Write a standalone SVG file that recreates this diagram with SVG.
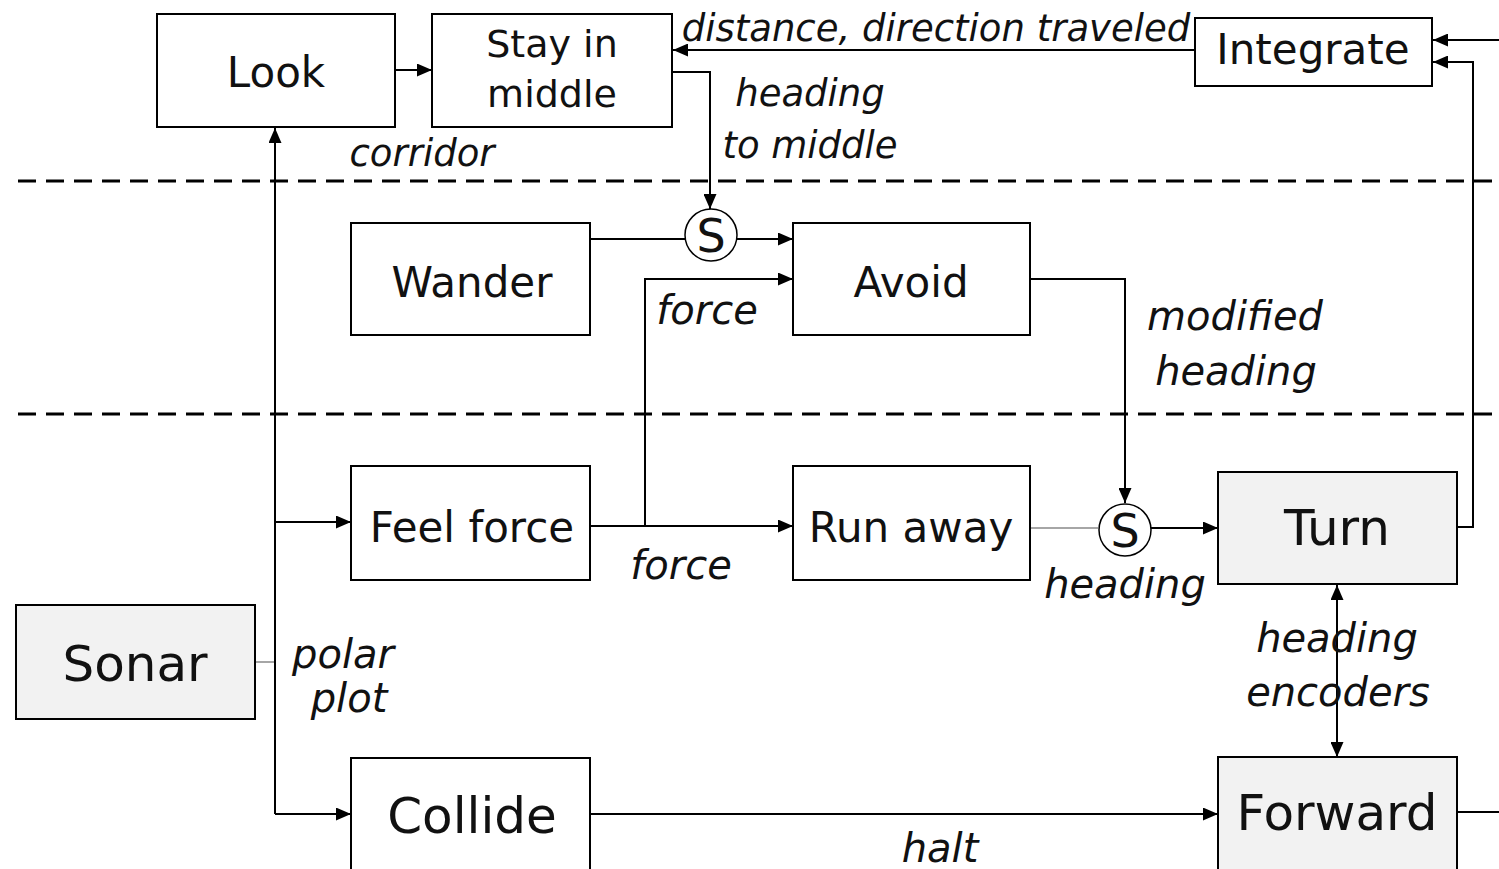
<svg xmlns="http://www.w3.org/2000/svg" width="1499" height="869" viewBox="0 0 1499 869">
  <style>
    .box { fill: #ffffff; stroke: #000; stroke-width: 2; }
    .hw { fill: #f2f2f2; stroke: #000; stroke-width: 2; }
    .name { font-family: "DejaVu Sans", Verdana, sans-serif; font-size: 42px; fill: #111; text-anchor: middle; }
    .big { font-size: 50px; }
    .mid { font-size: 38px; }
    .sym { font-size: 46px; }
    .lbl { font-family: "DejaVu Sans", Verdana, sans-serif; font-style: italic; font-size: 40px; fill: #111; text-anchor: middle; }
    .sm { font-size: 37px; }
    .wire { fill: none; stroke: #000; stroke-width: 2; }
    .thin { fill: none; stroke: #888; stroke-width: 1.5; }
    .sep { fill: none; stroke: #000; stroke-width: 3; stroke-dasharray: 18 10; }
    .sup { fill: #fff; stroke: #000; stroke-width: 1.5; }
  </style>
  <defs>
    <marker id="arrow" viewBox="0 0 15 13" refX="15" refY="6.5" markerWidth="15" markerHeight="13" markerUnits="userSpaceOnUse" orient="auto-start-reverse">
      <path d="M0,0 L15,6.5 L0,13 z" fill="#000"/>
    </marker>
  </defs>

  <rect width="1499" height="869" fill="#ffffff"/>

  <!-- layer separators -->
  <g id="separators">
    <line class="sep" x1="18" y1="181" x2="1499" y2="181"/>
    <line class="sep" x1="18" y1="414" x2="1499" y2="414"/>
  </g>

  <!-- connectors -->
  <g id="connectors">
    <path class="thin" d="M255,662 H275"/>
    <path class="wire" d="M275,814 V128" marker-end="url(#arrow)"/>
    <path class="wire" d="M275,522 H351" marker-end="url(#arrow)"/>
    <path class="wire" d="M275,814 H351" marker-end="url(#arrow)"/>
    <path class="wire" d="M395,70 H432" marker-end="url(#arrow)"/>
    <path class="wire" d="M672,72 H710 V209" marker-end="url(#arrow)"/>
    <path class="wire" d="M590,239 H685"/>
    <path class="wire" d="M737,239 H793" marker-end="url(#arrow)"/>
    <path class="wire" d="M590,526 H793" marker-end="url(#arrow)"/>
    <path class="wire" d="M645,526 V279 H793" marker-end="url(#arrow)"/>
    <path class="wire" d="M1030,279 H1125 V503" marker-end="url(#arrow)"/>
    <path class="thin" d="M1030,528 H1098"/>
    <path class="wire" d="M1151,528 H1218" marker-end="url(#arrow)"/>
    <path class="wire" d="M1457,527 H1473 V62 H1433" marker-end="url(#arrow)"/>
    <path class="wire" d="M1499,40 H1433" marker-end="url(#arrow)"/>
    <path class="wire" d="M1195,50 H673" marker-end="url(#arrow)"/>
    <path class="wire" d="M1337,585 V757" marker-start="url(#arrow)" marker-end="url(#arrow)"/>
    <path class="wire" d="M590,814 H1218" stroke="#555" marker-end="url(#arrow)"/>
    <path class="wire" d="M1457,812 H1499"/>
  </g>

  <!-- nodes -->
  <g id="look">
    <rect class="box" x="157" y="14" width="238" height="113"/>
    <text class="name" x="276" y="87">Look</text>
  </g>
  <g id="stay-in-middle">
    <rect class="box" x="432" y="14" width="240" height="113"/>
    <text class="name mid" x="552" y="57">Stay in</text>
    <text class="name mid" x="552" y="107">middle</text>
  </g>
  <g id="integrate">
    <rect class="box" x="1195" y="18" width="237" height="68"/>
    <text class="name" x="1313" y="64">Integrate</text>
  </g>
  <g id="wander">
    <rect class="box" x="351" y="223" width="239" height="112"/>
    <text class="name" x="472" y="297">Wander</text>
  </g>
  <g id="suppress-1">
    <circle class="sup" cx="711" cy="235" r="26"/>
    <text class="name sym" x="711" y="252">S</text>
  </g>
  <g id="avoid">
    <rect class="box" x="793" y="223" width="237" height="112"/>
    <text class="name" x="911" y="297">Avoid</text>
  </g>
  <g id="feel-force">
    <rect class="box" x="351" y="466" width="239" height="114"/>
    <text class="name" x="472" y="542">Feel force</text>
  </g>
  <g id="run-away">
    <rect class="box" x="793" y="466" width="237" height="114"/>
    <text class="name" x="911" y="542">Run away</text>
  </g>
  <g id="suppress-2">
    <circle class="sup" cx="1125" cy="530" r="26"/>
    <text class="name sym" x="1125" y="547">S</text>
  </g>
  <g id="turn">
    <rect class="hw" x="1218" y="472" width="239" height="112"/>
    <text class="name big" x="1337" y="545">Turn</text>
  </g>
  <g id="sonar">
    <rect class="hw" x="16" y="605" width="239" height="114"/>
    <text class="name big" x="135" y="681">Sonar</text>
  </g>
  <g id="collide">
    <rect class="box" x="351" y="758" width="239" height="120"/>
    <text class="name big" x="472" y="833">Collide</text>
  </g>
  <g id="forward">
    <rect class="hw" x="1218" y="757" width="239" height="120"/>
    <text class="name big" x="1337" y="830">Forward</text>
  </g>

  <!-- connector labels -->
  <g id="labels">
    <text class="lbl sm" x="936" y="41">distance, direction traveled</text>
    <text class="lbl sm" x="810" y="106">heading</text>
    <text class="lbl sm" x="810" y="158">to middle</text>
    <text class="lbl sm" x="422" y="166">corridor</text>
    <text class="lbl" x="707" y="324">force</text>
    <text class="lbl" x="1235" y="330">modified</text>
    <text class="lbl" x="1236" y="385">heading</text>
    <text class="lbl" x="681" y="579">force</text>
    <text class="lbl" x="1125" y="598">heading</text>
    <text class="lbl" x="1337" y="652">heading</text>
    <text class="lbl" x="1338" y="706">encoders</text>
    <text class="lbl" x="343" y="668">polar</text>
    <text class="lbl" x="349" y="712">plot</text>
    <text class="lbl" x="940" y="862">halt</text>
  </g>
</svg>
